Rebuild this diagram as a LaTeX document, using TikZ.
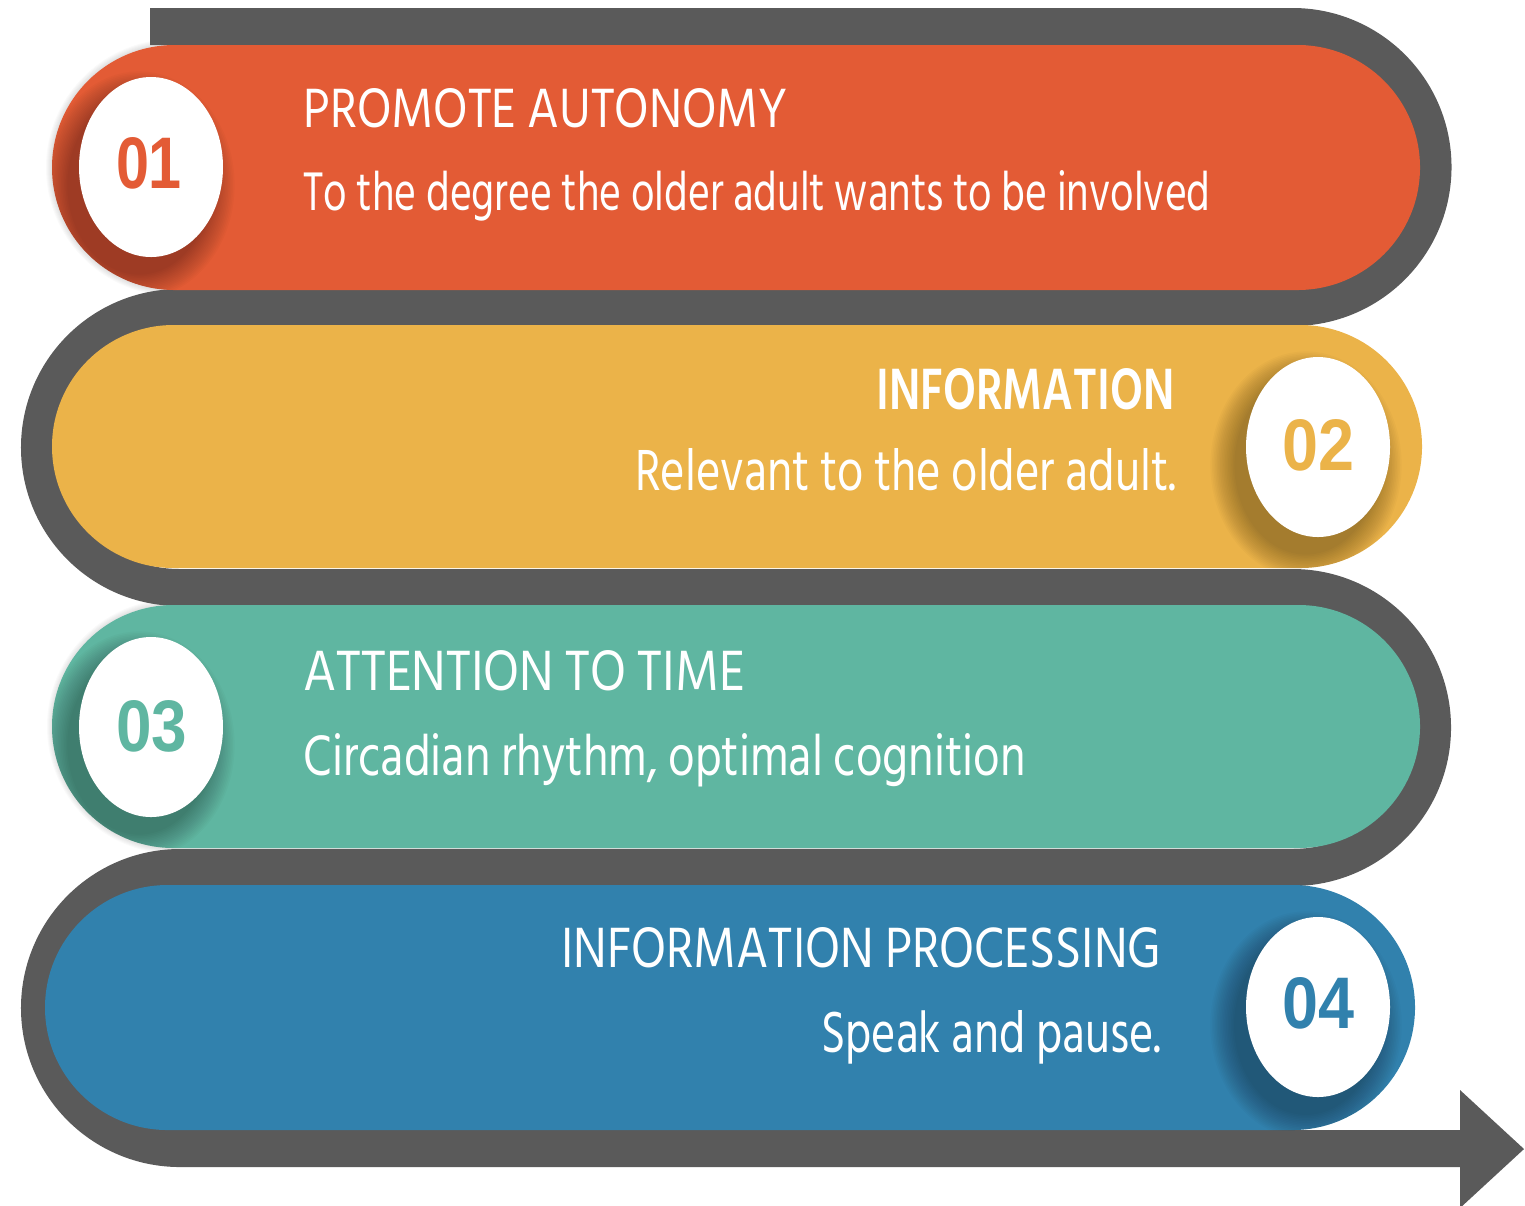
\documentclass[tikz,border=0pt]{standalone}
\usepackage{fontspec}
\usepackage{graphicx}
\newfontfamily\hind{Hind Siliguri}
\newfontfamily\numf{Liberation Sans}
\newdimen\pxu \pxu=0.01cm
\newcommand\fitbox[3]{\resizebox{#1\pxu}{#2\pxu}{#3}}
\definecolor{cred}{HTML}{E35B35}
\definecolor{cyel}{HTML}{EBB349}
\definecolor{cteal}{HTML}{5FB6A1}
\definecolor{cblue}{HTML}{3181AD}
\definecolor{cgray}{HTML}{5A5A5A}
\tikzset{
  graypath/.style={draw=cgray, line width=0.37cm, line cap=butt, line join=round},
  txt/.style={inner sep=0pt, text=white, font=\hind},
  num/.style={inner sep=0pt, font=\numf\bfseries},
  cshadow/.style={fill=black, opacity=0.018},
  bshadow/.style={fill=black, opacity=0.02},
}
\begin{document}
\begin{tikzpicture}[x=0.01cm, y=-0.01cm]
\useasboundingbox (0,0) rectangle (1525,1205);

% soft band shadows on white side
\foreach \i in {1,...,6}{
  \fill[bshadow] (174.5,{45-\i}) -- (1297.5,{45-\i}) arc[start angle=-90,end angle=90,radius={122.5+\i}] -- (174.5,{290+\i}) arc[start angle=90,end angle=270,radius={122.5+\i}] -- cycle;
  \fill[bshadow] (174.5,{605-\i}) -- (1297.5,{605-\i}) arc[start angle=-90,end angle=90,radius={121.5+\i}] -- (174.5,{848+\i}) arc[start angle=90,end angle=270,radius={121.5+\i}] -- cycle;
}

% gray winding path
\draw[graypath] (150,26.5) -- (1292.5,26.5)
  arc[start angle=-90,end angle=90,radius=140.5] -- (179.5,307.5)
  arc[start angle=-90,end angle=-270,radius=140] -- (1292.5,587.5)
  arc[start angle=-90,end angle=90,radius=140] -- (180,867.5)
  arc[start angle=-90,end angle=-270,radius=140.5] -- (1460,1148.5);
\fill[cgray] (1460,1090) -- (1524,1149) -- (1460,1208) -- cycle;

% bands
\def\bandA{(174.5,45) -- (1297.5,45) arc[start angle=-90,end angle=90,radius=122.5] -- (174.5,290) arc[start angle=90,end angle=270,radius=122.5] -- cycle}
\def\bandB{(173.5,325) -- (1300.5,325) arc[start angle=-90,end angle=90,radius=121.5] -- (173.5,568) arc[start angle=90,end angle=270,radius=121.5] -- cycle}
\def\bandC{(173.5,605) -- (1298.5,605) arc[start angle=-90,end angle=90,radius=121.5] -- (173.5,848) arc[start angle=90,end angle=270,radius=121.5] -- cycle}
\def\bandD{(167.5,885) -- (1292.5,885) arc[start angle=-90,end angle=90,radius=122.5] -- (167.5,1130) arc[start angle=90,end angle=270,radius=122.5] -- cycle}
\fill[cred] \bandA;
\fill[cyel] \bandB;
\fill[cteal] \bandC;
\fill[cblue] \bandD;

% circle shadows (soft, towards lower left)
\begin{scope}\clip \bandA;
\foreach \i in {1,...,16}{\fill[cshadow] (139,185) ellipse[x radius={70+1.6*\i}, y radius={88+1.6*\i}];}
\end{scope}
\begin{scope}\clip \bandB;
\foreach \i in {1,...,16}{\fill[cshadow] (1306,465) ellipse[x radius={70+1.6*\i}, y radius={88+1.6*\i}];}
\end{scope}
\begin{scope}\clip \bandC;
\foreach \i in {1,...,16}{\fill[cshadow] (139,745) ellipse[x radius={70+1.6*\i}, y radius={88+1.6*\i}];}
\end{scope}
\begin{scope}\clip \bandD;
\foreach \i in {1,...,16}{\fill[cshadow] (1306,1025) ellipse[x radius={70+1.6*\i}, y radius={88+1.6*\i}];}
\end{scope}

% circles
\fill[white] (151,167) ellipse[x radius=72, y radius=90];
\fill[white] (1318,447) ellipse[x radius=72, y radius=90];
\fill[white] (151,727) ellipse[x radius=72, y radius=90];
\fill[white] (1318,1007) ellipse[x radius=72, y radius=90];

% numbers
\node[num, text=cred] (n1) at (149,163.5) {\fitbox{66}{51}{01}};
\node[num, text=cyel] (n2) at (1318,445) {\fitbox{72}{51}{02}};
\node[num, text=cteal] (n3) at (151.5,726) {\fitbox{71}{51}{03}};
\node[num, text=cblue] (n4) at (1318,1003.5) {\fitbox{72}{51}{04}};

% texts
\node[txt, anchor=base west] (h1) at (303,127) {\fitbox{484}{39}{PROMOTE AUTONOMY}};
\node[txt, anchor=base west] (b1) at (303,210) {\fitbox{907}{40}{To the degree the older adult wants to be involved}};
\node[txt, anchor=base east] (h2) at (1175,409) {\fitbox{298}{41}{\bfseries INFORMATION}};
\node[txt, anchor=base east] (b2) at (1177,490) {\fitbox{541}{42}{Relevant to the older adult.}};
\node[txt, anchor=base west] (h3) at (303,690) {\fitbox{441}{40}{ATTENTION TO TIME}};
\node[txt, anchor=base west] (b3) at (303,775) {\fitbox{722}{42}{Circadian rhythm, optimal cognition}};
\node[txt, anchor=base east] (h4) at (1162,967) {\fitbox{600}{40}{INFORMATION PROCESSING}};
\node[txt, anchor=base east] (b4) at (1162,1052) {\fitbox{340}{42}{Speak and pause.}};
\end{tikzpicture}
\end{document}
